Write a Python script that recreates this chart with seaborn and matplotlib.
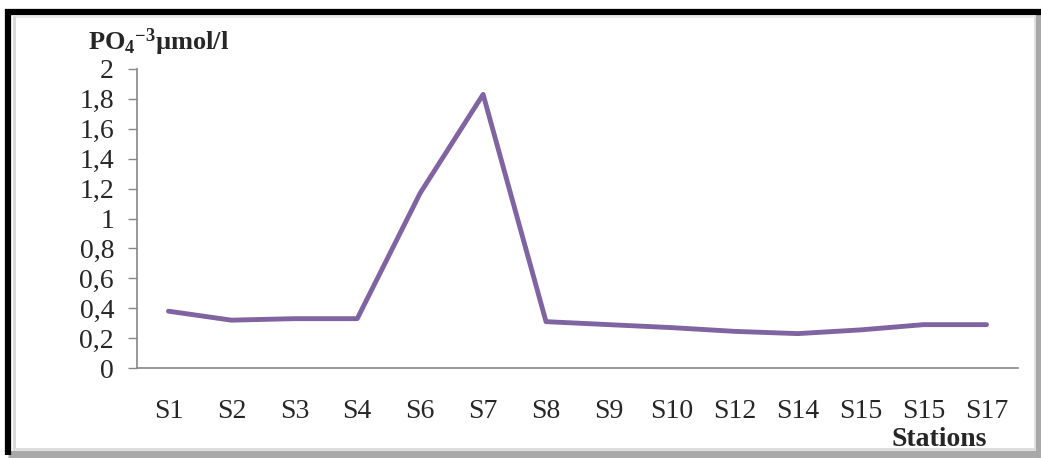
import numpy as np
import pandas as pd
import seaborn as sns
import matplotlib.pyplot as plt
from matplotlib.lines import Line2D

# --- данные ---
stations = ["S1", "S2", "S3", "S4", "S6", "S7", "S8", "S9", "S10",
            "S12", "S14", "S15", "S15", "S17"]
po4 = [0.38, 0.32, 0.33, 0.33, 1.17, 1.83, 0.31, 0.29, 0.27,
       0.245, 0.23, 0.255, 0.29, 0.29]
y_ticks = [0, 0.2, 0.4, 0.6, 0.8, 1, 1.2, 1.4, 1.6, 1.8, 2]
y_tick_labels = ["0", "0,2", "0,4", "0,6", "0,8", "1", "1,2", "1,4", "1,6", "1,8", "2"]

sns.set_style("white")
plt.rcParams["font.family"] = ["Liberation Serif", "DejaVu Serif"]
plt.rcParams["mathtext.fontset"] = "custom"
plt.rcParams["mathtext.rm"] = "Liberation Serif"
plt.rcParams["mathtext.bf"] = "Liberation Serif:bold"
plt.rcParams["mathtext.it"] = "Liberation Serif:italic"

df = pd.DataFrame({"pos": np.arange(len(stations)), "po4": po4})

W, H = 1041, 458
fig = plt.figure(figsize=(W / 100, H / 100), dpi=100)
ax = fig.add_axes([137 / W, 1 - 368 / H, (1018 - 137) / W, (368 - 69) / H])

sns.lineplot(data=df, x="pos", y="po4", color="#8064A2", linewidth=3.5, ax=ax)

ax.set_xlim(-0.5, len(stations) - 0.5)
ax.set_ylim(0, 2)
ax.set_xticks(df["pos"])
ax.set_xticklabels(stations)
ax.set_yticks(y_ticks)
ax.set_yticklabels(y_tick_labels)
ax.tick_params(axis="x", length=0, pad=22, labelsize=20)
ax.tick_params(axis="y", length=6.5, width=1, color="#868686", pad=10, labelsize=20, left=True)
ax.set_xlabel("")
ax.set_ylabel("")

for side in ["top", "right"]:
    ax.spines[side].set_visible(False)
for side in ["left", "bottom"]:
    ax.spines[side].set_color("#868686")
    ax.spines[side].set_linewidth(1.2)

# подписи осей
fig.text(88 / W, 1 - 50 / H, r"PO$_\mathbf{4}$$^\mathbf{-3}$µmol/l", fontsize=19,
         fontweight="bold", ha="left", va="baseline")
fig.text(987 / W, 1 - 446 / H, "Stations", fontsize=20, fontweight="bold",
         ha="right", va="baseline")

# рамка: чёрная сверху и слева, серая тень справа и снизу
def fline(x, y, color, lw):
    fig.add_artist(Line2D([v / W for v in x], [1 - v / H for v in y],
                          color=color, linewidth=lw, solid_capstyle="butt"))

fline([13, 1036], [17, 17], "#e6e6e6", 1.2)
fline([13.5, 13.5], [16, 450], "#d6d6d6", 2)
fline([1035, 1035], [16, 450], "#dedede", 2)
fline([12, 1036], [449, 449], "#dcdcdc", 2)
fline([8, 1041], [454, 454], "#a8a8a8", 5)
fline([1039, 1039], [12, 458], "#a8a8a8", 5)
fline([5, 1041], [12, 12], "black", 4.5)
fline([8, 8], [9, 455], "black", 4.5)

fig.savefig("out.png", dpi=100)
